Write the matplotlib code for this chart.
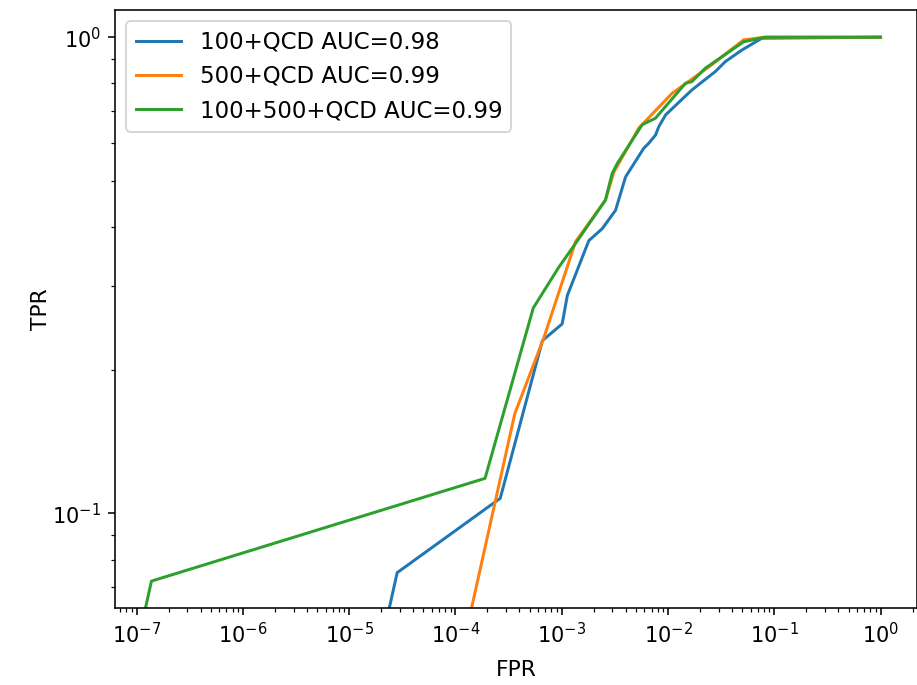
import matplotlib
matplotlib.use("Agg")
import matplotlib.pyplot as plt

# ROC points (first point is the (0, 0) corner)
fpr_100 = [0, 2.83e-5, 2.64e-4, 6.58e-4, 1.01e-3, 1.13e-3, 1.80e-3, 2.40e-3,
           3.21e-3, 3.99e-3, 5.93e-3, 6.6e-3, 7.63e-3, 8.2e-3, 9.5e-3,
           0.0168, 0.0279, 0.0347, 0.0497, 0.0764, 1.0]
tpr_100 = [0, 0.0751, 0.1076, 0.2306, 0.250, 0.287, 0.374, 0.396,
           0.433, 0.509, 0.585, 0.599, 0.623, 0.649, 0.687,
           0.775, 0.847, 0.889, 0.940, 0.995, 1.0]

fpr_500 = [0, 3.62e-4, 6.8e-4, 1.35e-3, 2.58e-3, 3.1e-3, 5.3e-3, 0.0109,
           0.0258, 0.0514, 0.0805, 1.0]
tpr_500 = [0, 0.162, 0.234, 0.372, 0.455, 0.521, 0.644, 0.762,
           0.875, 0.987, 1.0, 1.0]

fpr_both = [0, 1.38e-7, 1.9e-4, 5.4e-4, 9.4e-4, 1.35e-3, 2.58e-3, 2.98e-3,
            3.33e-3, 5.72e-3, 7.63e-3, 0.0146, 0.0168, 0.0225, 0.0322,
            0.0515, 0.0822, 1.0]
tpr_both = [0, 0.0721, 0.1185, 0.270, 0.329, 0.369, 0.455, 0.517,
            0.543, 0.655, 0.676, 0.800, 0.807, 0.861, 0.910,
            0.978, 1.0, 1.0]

labels = ["100+QCD AUC=0.98", "500+QCD AUC=0.99", "100+500+QCD AUC=0.99"]

fig = plt.figure(figsize=(917 / 143, 685 / 143), dpi=143)
ax = fig.add_axes([115 / 917, 76.7 / 685, 802 / 917, 598.3 / 685])

ax.plot(fpr_100, tpr_100, label=labels[0])
ax.plot(fpr_500, tpr_500, label=labels[1])
ax.plot(fpr_both, tpr_both, label=labels[2])

ax.set_xscale("log")
ax.set_yscale("log")
ax.set_xlabel("FPR", fontsize=11)
ax.set_ylabel("TPR", fontsize=11)
ax.xaxis.set_label_coords(0.5, -0.086)
ax.yaxis.set_label_coords(-0.08, 0.5)
ax.tick_params(labelsize=10.5)
ax.legend(loc="upper left", fontsize=11.5)

fig.savefig("out.png", dpi=143)
